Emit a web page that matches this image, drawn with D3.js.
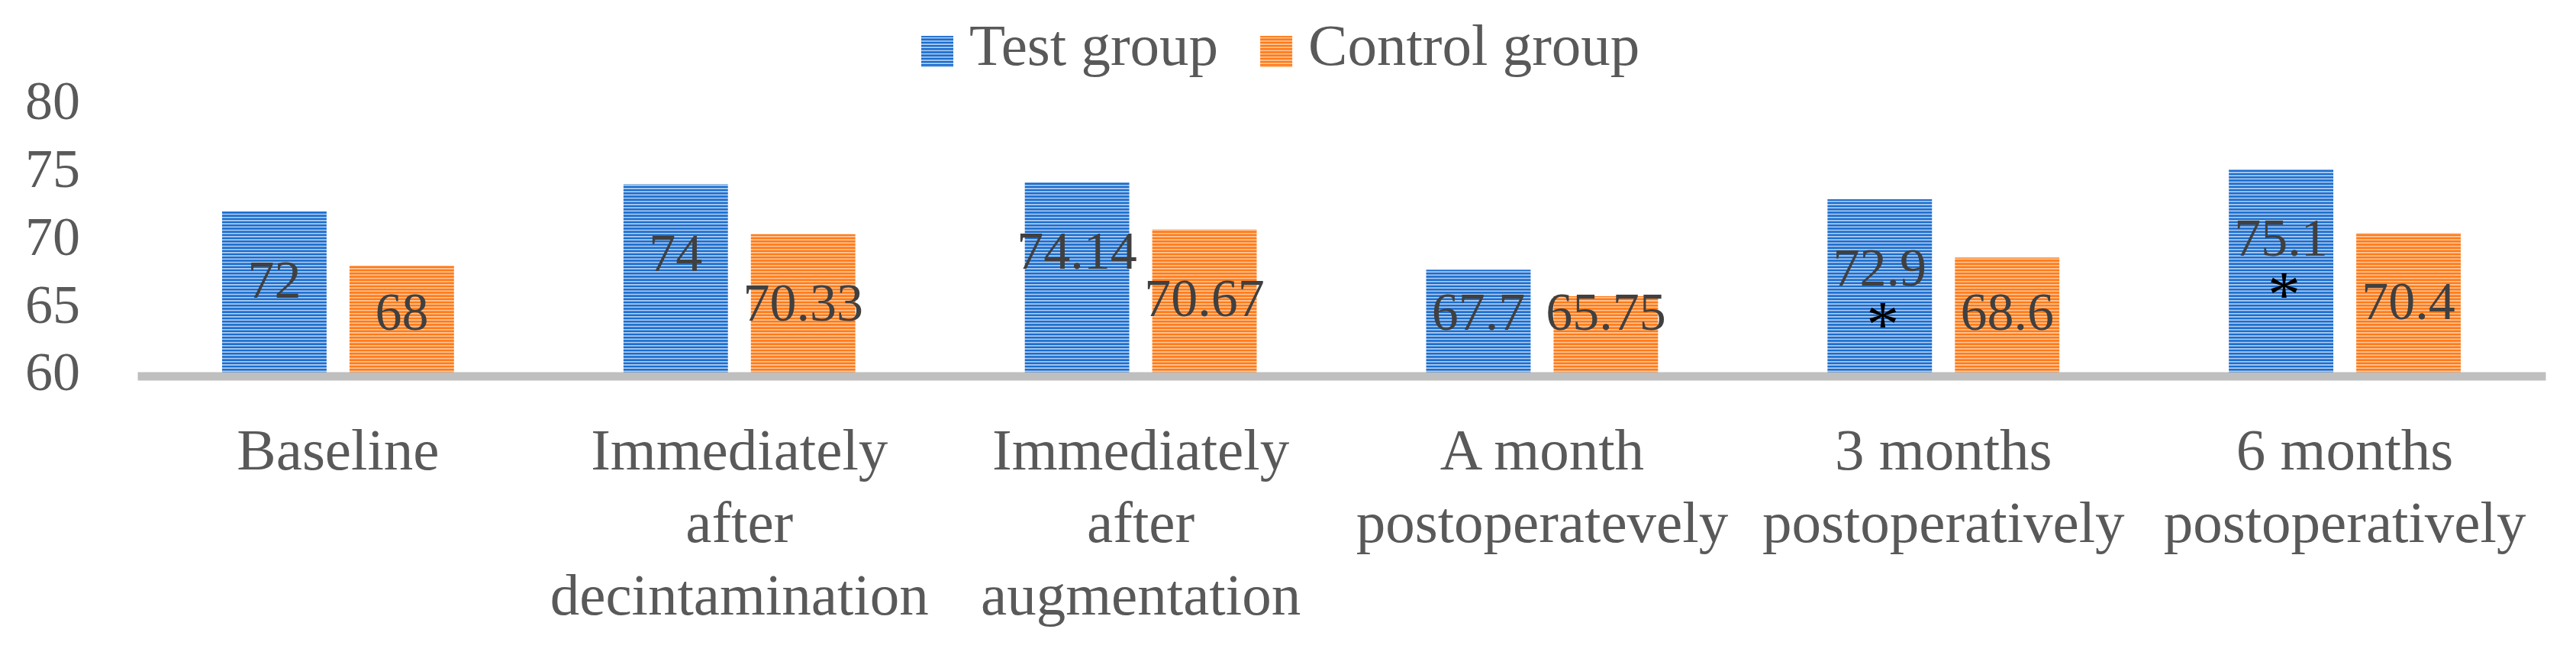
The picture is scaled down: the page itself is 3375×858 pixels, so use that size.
<!DOCTYPE html>
<html>
<head>
<meta charset="utf-8">
<script src="https://cdn.jsdelivr.net/npm/d3@7"></script>
<style>
  body { margin: 0; background: #fff; }
  svg { display: block; }
  text { font-family: "Liberation Serif", "Times New Roman", serif; }
</style>
</head>
<body>
<div id="chart"></div>
<script>
// data
var categories = ["Baseline", "Immediately after decintamination", "Immediately after augmentation",
                  "A month postoperatevely", "3 months postoperatively", "6 months postoperatively"];
var categoryLines = [["Baseline"], ["Immediately", "after", "decintamination"], ["Immediately", "after", "augmentation"],
                     ["A month", "postoperatevely"], ["3 months", "postoperatively"], ["6 months", "postoperatively"]];
var seriesNames = ["Test group", "Control group"];
var testValues = [72, 74, 74.14, 67.7, 72.9, 75.1];
var controlValues = [68, 70.33, 70.67, 65.75, 68.6, 70.4];
var testSignificant = [false, false, false, false, true, true];
var yTicks = [60, 65, 70, 75, 80];

var width = 3375, height = 858;
// note: "top" is a reserved window prop, so plot edges get their own names
var plotLeft = 180, plotRight = 3335, plotTop = 135, plotBottom = 490;
var colors = {
  "Test group": { dark: "#1a6dce", light: "#b9d2f2" },
  "Control group": { dark: "#ff7a18", light: "#ffcaa0" }
};
var textGray = "#595959";

var svg = d3.select("#chart").append("svg")
    .attr("width", width)
    .attr("height", height);

// horizontal stripe fill like the original
var defs = svg.append("defs");
seriesNames.forEach(function (name, i) {
  var p = defs.append("pattern")
      .attr("id", "stripe" + i)
      .attr("patternUnits", "userSpaceOnUse")
      .attr("width", 8).attr("height", 4.2);
  p.append("rect").attr("width", 8).attr("height", 4.2).attr("fill", colors[name].dark);
  p.append("rect").attr("y", 2.6).attr("width", 8).attr("height", 1.6).attr("fill", colors[name].light);
});

var data = categories.map(function (c, i) {
  return { cat: c, lines: categoryLines[i], sig: testSignificant[i],
           vals: [{ key: "Test group", v: testValues[i] }, { key: "Control group", v: controlValues[i] }] };
});

var x0 = d3.scaleBand().domain(categories).range([plotLeft, plotRight]);
var x1 = d3.scaleBand().domain(seriesNames).range([0, x0.bandwidth()])
    .paddingInner(0.18).paddingOuter(0.665);
var y = d3.scaleLinear().domain([60, 80]).range([plotBottom, plotTop]);

// y axis labels only
var yAxis = svg.append("g")
    .attr("transform", "translate(" + plotLeft + ",0)")
    .call(d3.axisLeft(y).tickValues(yTicks).tickSize(0).tickPadding(75));
yAxis.select(".domain").remove();
yAxis.selectAll("text")
    .attr("dy", "0.29em")
    .style("font-size", "72px")
    .style("font-family", "Liberation Serif")
    .attr("fill", textGray);

// bars
var groups = svg.append("g").selectAll("g.group")
    .data(data).join("g")
    .attr("class", "group")
    .attr("transform", function (d) { return "translate(" + x0(d.cat) + ",0)"; });

groups.selectAll("rect")
    .data(function (d) { return d.vals; }).join("rect")
    .attr("x", function (d) { return x1(d.key); })
    .attr("y", function (d) { return y(d.v); })
    .attr("width", x1.bandwidth())
    .attr("height", function (d) { return plotBottom - y(d.v); })
    .attr("fill", function (d) { return "url(#stripe" + seriesNames.indexOf(d.key) + ")"; });

// value labels, sitting a fixed drop below the bar top but not lower than ~64.6
function labelCenter(v) { return Math.min(y(v) + 89, y(64.6)); }

groups.selectAll("text.value")
    .data(function (d) { return d.vals; }).join("text")
    .attr("class", "value")
    .attr("x", function (d) { return x1(d.key) + x1.bandwidth() / 2; })
    .attr("y", function (d) { return labelCenter(d.v) + 24; })
    .attr("text-anchor", "middle")
    .style("font-size", "70px")
    .attr("fill", "#404040")
    .text(function (d) { return d.v; });

// significance marks
groups.filter(function (d) { return d.sig; })
  .append("text")
    .attr("x", x1("Test group") + x1.bandwidth() / 2 + 4)
    .attr("y", function (d) { return labelCenter(d.vals[0].v) + 66 + 38; })
    .attr("text-anchor", "middle")
    .style("font-size", "86px")
    .attr("fill", "#000")
    .text("*");

// x axis: thick grey base line + wrapped category labels
var xAxis = svg.append("g")
    .attr("transform", "translate(0," + (plotBottom + 2.5) + ")")
    .call(d3.axisBottom(x0).tickSize(0).tickSizeOuter(0));
xAxis.select(".domain")
    .attr("stroke", "#bfbfbf")
    .attr("stroke-width", 11);
xAxis.selectAll(".tick text").each(function (c) {
  var t = d3.select(this);
  var lines = categoryLines[categories.indexOf(c)];
  t.text(null)
    .attr("y", 122)
    .attr("dy", null)
    .style("font-size", "77px")
    .style("font-family", "Liberation Serif")
    .attr("fill", textGray);
  lines.forEach(function (line, i) {
    t.append("tspan").attr("x", 0).attr("dy", i === 0 ? 0 : 95).text(line);
  });
});

// legend
var legend = svg.append("g").attr("transform", "translate(1207,0)");
var lx = 0;
seriesNames.forEach(function (name, i) {
  legend.append("rect")
      .attr("x", lx).attr("y", 47)
      .attr("width", 42).attr("height", 41)
      .attr("fill", "url(#stripe" + i + ")");
  var t = legend.append("text")
      .attr("x", lx + 63).attr("y", 85)
      .style("font-size", "77px")
      .attr("fill", textGray)
      .text(name);
  lx += 63 + t.node().getComputedTextLength() + 55;
});
</script>
</body>
</html>
